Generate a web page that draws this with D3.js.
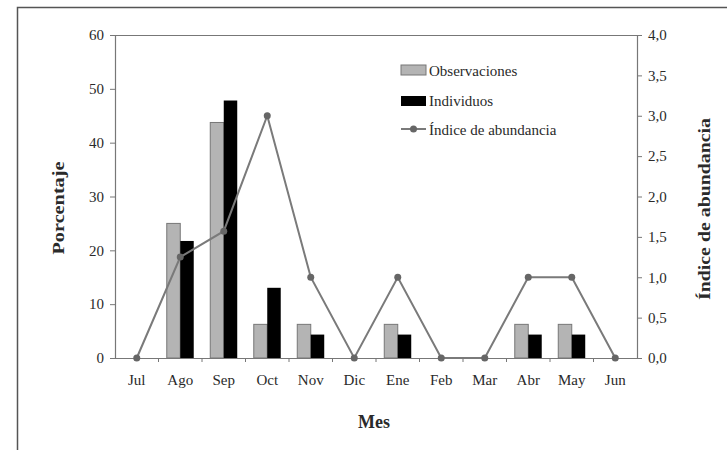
<!DOCTYPE html>
<html>
<head>
<meta charset="utf-8">
<script src="https://cdn.jsdelivr.net/npm/d3@7"></script>
<style>
  body { margin: 0; background: #fff; }
  svg text { font-family: "Liberation Serif", "DejaVu Serif", serif; fill: #2a2a2a; }
</style>
</head>
<body>
<svg id="chart" width="727" height="450"></svg>
<script>
// Data
const months = ["Jul", "Ago", "Sep", "Oct", "Nov", "Dic", "Ene", "Feb", "Mar", "Abr", "May", "Jun"];
const observaciones = [0, 25, 43.75, 6.25, 6.25, 0, 6.25, 0, 0, 6.25, 6.25, 0];
const individuos = [0, 21.74, 47.83, 13.04, 4.35, 0, 4.35, 0, 0, 4.35, 4.35, 0];
const indice = [0, 1.25, 1.57, 3.0, 1.0, 0, 1.0, 0, 0, 1.0, 1.0, 0];
const leftTicks = [0, 10, 20, 30, 40, 50, 60];
const rightTicks = [0, 0.5, 1, 1.5, 2, 2.5, 3, 3.5, 4];

const svg = d3.select("#chart");

// outer frame
svg.append("rect")
   .attr("x", 17.5).attr("y", 7.5)
   .attr("width", 800).attr("height", 500)
   .attr("fill", "none")
   .attr("stroke", "#555")
   .attr("stroke-width", 1.5);

const plotLeft = 115, plotRight = 637, plotTop = 35, plotBottom = 358;

const x = d3.scaleBand()
            .domain(months)
            .range([plotLeft, plotRight]);

const yL = d3.scaleLinear().domain([0, 60]).range([plotBottom, plotTop]);
const yR = d3.scaleLinear().domain([0, 4]).range([plotBottom, plotTop]);

const axisColor = "#777";

// top frame line
svg.append("line")
   .attr("x1", plotLeft).attr("x2", plotRight)
   .attr("y1", plotTop + 0.5).attr("y2", plotTop + 0.5)
   .attr("stroke", axisColor).attr("stroke-width", 1.2);

// Bars
const inner = 0.31;
const barW = x.bandwidth() * inner;

svg.append("g").selectAll("rect")
   .data(months.map((m, i) => ({m: m, v: observaciones[i]})).filter(d => d.v > 0))
   .enter()
   .append("rect")
     .attr("x", d => x(d.m) + x.bandwidth() / 2 - barW)
     .attr("y", d => yL(d.v))
     .attr("width", barW)
     .attr("height", d => plotBottom - yL(d.v))
     .attr("fill", "#b4b4b4")
     .attr("stroke", "#777")
     .attr("stroke-width", 1);

svg.append("g").selectAll("rect")
   .data(months.map((m, i) => ({m: m, v: individuos[i]})).filter(d => d.v > 0))
   .enter()
   .append("rect")
     .attr("x", d => x(d.m) + x.bandwidth() / 2)
     .attr("y", d => yL(d.v))
     .attr("width", barW)
     .attr("height", d => plotBottom - yL(d.v))
     .attr("fill", "#000");

// Axes
const xAxis = d3.axisBottom(x).tickSize(0).tickPadding(16);
const gx = svg.append("g")
   .attr("transform", "translate(0," + plotBottom + ")")
   .call(xAxis);
gx.select(".domain").attr("stroke", axisColor).attr("stroke-width", 1.2);
gx.selectAll("text").attr("font-size", 15);

// small ticks between categories
svg.append("g").selectAll("line")
   .data(months.slice(1))
   .enter()
   .append("line")
     .attr("x1", d => x(d)).attr("x2", d => x(d))
     .attr("y1", plotBottom).attr("y2", plotBottom + 4)
     .attr("stroke", axisColor);

const gl = svg.append("g")
   .attr("transform", "translate(" + plotLeft + ",0)")
   .call(d3.axisLeft(yL).tickValues(leftTicks).tickSize(5).tickPadding(6));
gl.select(".domain").attr("stroke", axisColor).attr("stroke-width", 1.2);
gl.selectAll(".tick line").attr("stroke", axisColor);
gl.selectAll("text").attr("font-size", 15);

const fmt = d3.format(".1f");
const gr = svg.append("g")
   .attr("transform", "translate(" + plotRight + ",0)")
   .call(d3.axisRight(yR).tickValues(rightTicks).tickSize(5).tickPadding(6)
            .tickFormat(d => fmt(d).replace(".", ",")));
gr.select(".domain").attr("stroke", axisColor).attr("stroke-width", 1.2);
gr.selectAll(".tick line").attr("stroke", axisColor);
gr.selectAll("text").attr("font-size", 15);

// Abundance index line
const cx = m => x(m) + x.bandwidth() / 2;
const pts = months.map((m, i) => ({m: m, v: indice[i]}));

const line = d3.line()
               .x(d => cx(d.m))
               .y(d => yR(d.v));

svg.append("path")
   .datum(pts)
   .attr("d", line)
   .attr("fill", "none")
   .attr("stroke", "#7a7a7a")
   .attr("stroke-width", 2);

svg.append("g").selectAll("circle")
   .data(pts)
   .enter()
   .append("circle")
     .attr("cx", d => cx(d.m))
     .attr("cy", d => yR(d.v))
     .attr("r", 3.5)
     .attr("fill", "#666");

// Axis titles
svg.append("text")
   .attr("transform", "translate(64,208) rotate(-90)")
   .attr("text-anchor", "middle")
   .attr("font-size", 17).attr("font-weight", "bold")
   .attr("textLength", 93).attr("lengthAdjust", "spacingAndGlyphs")
   .text("Porcentaje");

svg.append("text")
   .attr("transform", "translate(710,209) rotate(-90)")
   .attr("text-anchor", "middle")
   .attr("font-size", 17).attr("font-weight", "bold")
   .attr("textLength", 182).attr("lengthAdjust", "spacingAndGlyphs")
   .text("Índice de abundancia");

svg.append("text")
   .attr("x", 374).attr("y", 428)
   .attr("text-anchor", "middle")
   .attr("font-size", 18).attr("font-weight", "bold")
   .text("Mes");

// Legend
const lg = svg.append("g").attr("transform", "translate(401,0)");
lg.append("rect").attr("x", 0).attr("y", 65).attr("width", 25).attr("height", 10)
  .attr("fill", "#b4b4b4").attr("stroke", "#777");
lg.append("text").attr("x", 28).attr("y", 76).attr("font-size", 15).text("Observaciones");

lg.append("rect").attr("x", 0).attr("y", 96).attr("width", 25).attr("height", 10)
  .attr("fill", "#000");
lg.append("text").attr("x", 28).attr("y", 106).attr("font-size", 15).text("Individuos");

lg.append("line").attr("x1", 0).attr("x2", 25).attr("y1", 129).attr("y2", 129)
  .attr("stroke", "#7a7a7a").attr("stroke-width", 2);
lg.append("circle").attr("cx", 12.5).attr("cy", 129).attr("r", 3.5).attr("fill", "#666");
lg.append("text").attr("x", 28).attr("y", 135).attr("font-size", 15).text("Índice de abundancia");
</script>
</body>
</html>
